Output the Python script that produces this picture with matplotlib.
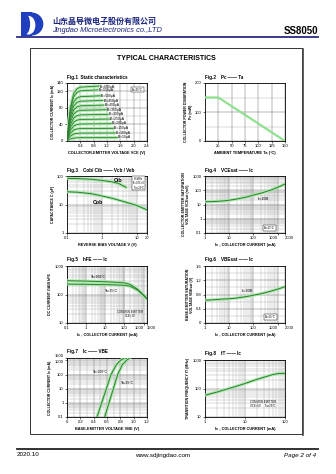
import matplotlib
matplotlib.use('Agg')
import matplotlib.pyplot as plt
from matplotlib.patches import Rectangle, Ellipse
from matplotlib.lines import Line2D
from matplotlib.ticker import FixedLocator, MultipleLocator, LogLocator, NullFormatter

plt.rcParams['font.family'] = ['Liberation Sans', 'DejaVu Sans']

W, H = 336, 474

# ---------------- data ----------------
# Fig.1 static characteristics (IC vs VCE for several IB)
fig1_ib_labels = ['IB=600μA', 'IB=550μA', 'IB=500μA', 'IB=450μA', 'IB=400μA', 'IB=350μA',
                  'IB=300μA', 'IB=250μA', 'IB=200μA', 'IB=150μA', 'IB=100μA', 'IB=50μA']
fig1_ic_levels = [130, 121, 107, 96, 85, 74, 63, 52, 41, 30, 19, 8]
fig1_vce_end = [0.95, 0.92, 1.0, 1.07, 1.1, 1.17, 1.23, 1.27, 1.33, 1.39, 1.44, 1.5]
fig1_knee_vce = [0.0, 0.05, 0.1, 0.2, 0.3, 0.4]
fig1_knee_frac = [0.0, 0.35, 0.62, 0.88, 0.97, 1.0]
fig1_xticks = [0.4, 0.8, 1.2, 1.6, 2.0, 2.4]
fig1_yticks = [0, 40, 80, 120, 140]

# Fig.2 power derating
fig2_ta = [0, 25, 150]
fig2_pc = [150, 150, 0]
fig2_xticks = [25, 50, 75, 100, 125, 150]
fig2_yticks = [0, 100, 200]

# Fig.3 capacitances
fig3_v_cib = [0.1, 0.2, 0.5, 1, 2, 3, 5]
fig3_cib = [83, 81, 77, 70, 62, 55, 40]
fig3_v_cob = [0.1, 0.2, 0.5, 1, 2, 5, 10, 20]
fig3_cob = [28, 27, 24, 20, 16.5, 12, 9.3, 6.5]

# Fig.4 VCE(sat) vs IC
fig4_ic = [1, 2, 5, 10, 20, 50, 100, 200, 500, 1000, 2000]
fig4_vce = [15.5, 16, 17.5, 20, 24, 33, 46, 62, 100, 160, 270]

# Fig.5 hFE vs IC
fig5_ic = [0.1, 0.3, 1, 3, 10, 30, 100, 200, 500, 1000, 1500]
fig5_hfe_100 = [305, 300, 295, 288, 280, 270, 255, 225, 150, 95, 72]
fig5_hfe_25 = [232, 230, 228, 225, 222, 218, 210, 195, 140, 92, 70]

# Fig.6 VBE(sat) vs IC
fig6_ic = [1, 2, 5, 10, 20, 50, 100, 200, 500, 1000, 2000]
fig6_vbe = [0.64, 0.65, 0.67, 0.68, 0.70, 0.74, 0.78, 0.82, 0.89, 0.95, 1.02]

# Fig.7 IC vs VBE
fig7_ic = [0.1, 1, 10, 100, 500, 1000, 1500]
fig7_vbe_100 = [0.45, 0.52, 0.59, 0.66, 0.74, 0.80, 0.86]
fig7_vbe_25 = [0.565, 0.63, 0.695, 0.76, 0.83, 0.89, 0.94]

# Fig.8 fT vs IC
fig8_ic = [1, 2, 5, 10, 20, 50, 70, 100]
fig8_ft = [58, 75, 110, 150, 210, 310, 335, 340]

# ---------------- helpers ----------------
fig = plt.figure(figsize=(W / 100, H / 100), dpi=100)


def px_axes(l, t, r, b, **kw):
    return fig.add_axes([l / W, 1 - b / H, (r - l) / W, (b - t) / H], **kw)


def px_text(x, y, s, **kw):
    return fig.text(x / W, 1 - y / H, s, **kw)


def px_line(x0, y0, x1, y1, **kw):
    fig.add_artist(Line2D([x0 / W, x1 / W], [1 - y0 / H, 1 - y1 / H],
                          transform=fig.transFigure, **kw))


def style(ax, xlabel, ylabel):
    for sp in ax.spines.values():
        sp.set_linewidth(0.6)
    ax.tick_params(which='major', labelsize=3, length=1.5, width=0.4, pad=1)
    ax.tick_params(which='minor', length=0)
    ax.grid(True, which='major', color='#6f6f6f', lw=0.35)
    ax.grid(True, which='minor', color='#9a9a9a', lw=0.25)
    ax.set_axisbelow(True)
    ax.set_xlabel(xlabel, fontsize=2.8, fontweight='bold', labelpad=1.5)
    ax.set_ylabel(ylabel, fontsize=2.6, fontweight='bold', labelpad=1.5,
                  linespacing=1.1)


def log_minor(axis):
    axis.set_minor_locator(LogLocator(base=10, subs=range(2, 10), numticks=20))
    axis.set_minor_formatter(NullFormatter())


def green(ax, x, y, lw=0.7):
    ax.plot(x, y, color='#a8e8a8', lw=2.2, solid_capstyle='round', zorder=3)
    ax.plot(x, y, color='#2e7d32', lw=lw, zorder=4)


def title(ax_box, s):
    l, t = ax_box
    px_text(l, t - 6, s, fontsize=3.3, fontweight='bold', va='center', ha='left')


def note(ax, x, y, s, box=False, fs=2.2, **kw):
    bb = dict(boxstyle='square,pad=0.3', fc='white', ec='black', lw=0.3) if box else None
    ax.text(x, y, s, fontsize=fs, ha='center', va='center', bbox=bb, zorder=6,
            linespacing=1.1, **kw)


# ---------------- header ----------------
logo = px_axes(19, 12, 44, 36)
logo.set_xlim(0, 1)
logo.set_ylim(0, 1)
logo.axis('off')
logo.add_patch(Rectangle((0.05, 0.02), 0.45, 0.96, fc='#1f3fbf', ec='none'))
logo.add_patch(Ellipse((0.5, 0.5), 0.95, 0.96, fc='#1f3fbf', ec='none'))
logo.add_patch(Ellipse((0.38, 0.45), 0.55, 0.78, fc='white', ec='none'))
logo.add_patch(Ellipse((0.22, 0.5), 0.45, 0.9, fc='#1f3fbf', ec='none'))
logo.add_patch(Rectangle((0.0, 0.0), 0.06, 1.0, fc='white', ec='none'))

px_text(52, 21, '山东晶导微电子股份有限公司', fontsize=5.8, color='#1a237e',
        family=['Noto Sans CJK SC', 'DejaVu Sans'], fontweight='bold', va='center')
px_text(52, 30.5, 'Jingdao Microelectronics co.,LTD', fontsize=5.4, color='#1a237e',
        style='italic', va='center')
px_text(318, 30.5, 'SS8050', fontsize=7, fontweight='bold', ha='right', va='center')
px_line(17, 36.5, 318, 36.5, color='#2b2b86', lw=1.3)

# framed area
fig.add_artist(Rectangle((30 / W, 1 - 434 / H), (302 - 30) / W, (434 - 48) / H,
                         transform=fig.transFigure, fill=False, ec='#333333', lw=0.7))
px_line(303, 49, 303, 435, color='#444444', lw=1.2)
px_text(166, 59, 'TYPICAL CHARACTERISTICS', fontsize=5, fontweight='bold',
        ha='center', va='center')

# footer
px_line(17, 449, 318, 449, color='#222222', lw=1.3)
px_text(17, 455, '2020.10', fontsize=4.5, va='center')
px_text(163, 455, 'www.sdjingdao.com', fontsize=4.5, ha='center', va='center')
px_text(316, 455, 'Page 2 of 4', fontsize=4.5, ha='right', va='center', style='italic')

# ---------------- Fig.1 ----------------
box1 = (67, 83, 147, 141)
ax1 = px_axes(*box1)
for lab, lev, xe in zip(fig1_ib_labels, fig1_ic_levels, fig1_vce_end):
    xs = fig1_knee_vce + [xe]
    ys = [lev * f for f in fig1_knee_frac] + [lev * 1.02]
    green(ax1, xs, ys, lw=0.6)
    ax1.text(xe + 0.02, lev + 1.5, lab, fontsize=2.4, ha='left', va='center', zorder=6)
ax1.set_xlim(0, 2.4)
ax1.set_ylim(0, 140)
ax1.xaxis.set_major_locator(FixedLocator(fig1_xticks))
ax1.yaxis.set_major_locator(FixedLocator(fig1_yticks))
ax1.xaxis.set_minor_locator(MultipleLocator(0.2))
ax1.yaxis.set_minor_locator(MultipleLocator(20))
style(ax1, 'COLLECTOR-EMITTER VOLTAGE VCE (V)', 'COLLECTOR CURRENT Ic (mA)')
note(ax1, 2.12, 124, 'Ta=25°C', box=True, fs=2)
title(box1[:2], 'Fig.1  Static characteristics')

# ---------------- Fig.2 ----------------
box2 = (205, 83, 285, 141)
ax2 = px_axes(*box2)
ax2.plot(fig2_ta, fig2_pc, color='#8fe08f', lw=1.6, zorder=3)
ax2.set_xlim(0, 150)
ax2.set_ylim(0, 200)
ax2.xaxis.set_major_locator(FixedLocator(fig2_xticks))
ax2.yaxis.set_major_locator(FixedLocator(fig2_yticks))
ax2.yaxis.set_minor_locator(MultipleLocator(50))
style(ax2, 'AMBIENT TEMPERATURE Ta (°C)', 'COLLECTOR POWER DISSIPATION\nPc (mW)')
title(box2[:2], 'Fig.2    Pc —— Ta')

# ---------------- Fig.3 ----------------
box3 = (67, 176, 147, 233)
ax3 = px_axes(*box3)
ax3.set_xscale('log')
ax3.set_yscale('log')
green(ax3, fig3_v_cib, fig3_cib)
green(ax3, fig3_v_cob, fig3_cob)
ax3.set_xlim(0.1, 20)
ax3.set_ylim(1, 100)
ax3.xaxis.set_major_locator(FixedLocator([0.1, 1, 10, 20]))
ax3.set_xticklabels(['0.1', '1', '10', '20'])
ax3.yaxis.set_major_locator(FixedLocator([1, 10, 100]))
ax3.set_yticklabels(['1', '10', '100'])
log_minor(ax3.xaxis)
log_minor(ax3.yaxis)
style(ax3, 'REVERSE BIAS VOLTAGE V (V)', 'CAPACITANCE C (pF)')
ax3.text(3.0, 72, 'Cib', fontsize=3.8, fontweight='bold', ha='center', va='center', zorder=6)
ax3.text(0.8, 11.5, 'Cob', fontsize=3.8, fontweight='bold', ha='center', va='center', zorder=6)
note(ax3, 11.5, 55, 'f=1MHz\nIE=0/IC=0\nTa=25°C', box=True, fs=1.9)
title(box3[:2], 'Fig.3    Cob/ Cib —— Vcb / Veb')

# ---------------- Fig.4 ----------------
box4 = (205, 176, 285, 233)
ax4 = px_axes(*box4)
ax4.set_xscale('log')
ax4.set_yscale('log')
green(ax4, fig4_ic, fig4_vce)
ax4.set_xlim(1, 2000)
ax4.set_ylim(0.1, 1000)
ax4.xaxis.set_major_locator(FixedLocator([1, 10, 100, 1000, 2000]))
ax4.set_xticklabels(['1', '10', '100', '1000', '2000'])
ax4.yaxis.set_major_locator(FixedLocator([0.1, 1, 10, 100, 1000]))
ax4.set_yticklabels(['0.1', '1', '10', '100', '1000'])
log_minor(ax4.xaxis)
log_minor(ax4.yaxis)
style(ax4, 'Ic , COLLECTOR CURRENT (mA)',
      'COLLECTOR-EMITTER SATURATION\nVOLTAGE VCEsat (mV)')
xl = ax4.get_xticklabels()
xl[3].set_ha('right')
xl[4].set_ha('left')
note(ax4, 260, 24, 'Ic=10IB', fs=2.4)
note(ax4, 450, 0.22, 'Ta=25°C', box=True, fs=2)
title(box4[:2], 'Fig.4    VCEsat —— Ic')

# ---------------- Fig.5 ----------------
box5 = (67, 266, 147, 323)
ax5 = px_axes(*box5)
ax5.set_xscale('log')
ax5.set_yscale('log')
green(ax5, fig5_ic, fig5_hfe_100)
green(ax5, fig5_ic, fig5_hfe_25)
ax5.set_xlim(0.1, 1500)
ax5.set_ylim(10, 1000)
ax5.xaxis.set_major_locator(FixedLocator([0.1, 1, 10, 100, 1000, 1500]))
ax5.set_xticklabels(['0.1', '1', '10', '100', '1000', '1500'])
ax5.yaxis.set_major_locator(FixedLocator([10, 100, 1000]))
ax5.set_yticklabels(['10', '100', '1000'])
log_minor(ax5.xaxis)
log_minor(ax5.yaxis)
style(ax5, 'Ic , COLLECTOR CURRENT (mA)', 'DC CURRENT GAIN hFE')
xl = ax5.get_xticklabels()
xl[4].set_ha('right')
xl[5].set_ha('left')
note(ax5, 4.4, 420, 'Ta=100°C', fs=2.4)
note(ax5, 22, 136, 'Ta=25°C', fs=2.4)
note(ax5, 200, 21, 'COMMON EMITTER\nVCE=1V', fs=2)
title(box5[:2], 'Fig.5    hFE —— Ic')

# ---------------- Fig.6 ----------------
box6 = (205, 266, 285, 323)
ax6 = px_axes(*box6)
ax6.set_xscale('log')
green(ax6, fig6_ic, fig6_vbe)
ax6.set_xlim(1, 2000)
ax6.set_ylim(0, 1.6)
ax6.xaxis.set_major_locator(FixedLocator([1, 10, 100, 1000, 2000]))
ax6.set_xticklabels(['1', '10', '100', '1000', '2000'])
ax6.yaxis.set_major_locator(FixedLocator([0, 0.4, 0.8, 1.2, 1.6]))
ax6.set_yticklabels(['0', '0.4', '0.8', '1.2', '1.6'])
ax6.yaxis.set_minor_locator(MultipleLocator(0.2))
log_minor(ax6.xaxis)
style(ax6, 'Ic , COLLECTOR CURRENT (mA)',
      'BASE-EMITTER SATURATION\nVOLTAGE VBEsat (V)')
xl = ax6.get_xticklabels()
xl[3].set_ha('right')
xl[4].set_ha('left')
note(ax6, 55, 0.9, 'Ic=10IB', fs=2.4)
note(ax6, 500, 0.17, 'Ta=25°C', box=True, fs=2)
title(box6[:2], 'Fig.6    VBEsat —— Ic')

# ---------------- Fig.7 ----------------
box7 = (67, 358, 147, 417)
ax7 = px_axes(*box7)
ax7.set_yscale('log')
green(ax7, fig7_vbe_100, fig7_ic)
green(ax7, fig7_vbe_25, fig7_ic)
ax7.set_xlim(0, 1.2)
ax7.set_ylim(0.1, 1500)
ax7.xaxis.set_major_locator(FixedLocator([0, 0.2, 0.4, 0.6, 0.8, 1.0, 1.2]))
ax7.set_xticklabels(['0', '0.2', '0.4', '0.6', '0.8', '1.0', '1.2'])
ax7.xaxis.set_minor_locator(MultipleLocator(0.1))
ax7.yaxis.set_major_locator(FixedLocator([0.1, 1, 10, 100, 1000, 1500]))
ax7.set_yticklabels(['0.1', '1', '10', '100', '1000', '1500'])
log_minor(ax7.yaxis)
style(ax7, 'BASE-EMITTER VOLTAGE VBE (V)', 'COLLECTOR CURRENT Ic (mA)')
yl = ax7.get_yticklabels()
yl[4].set_va('top')
yl[5].set_va('bottom')
note(ax7, 0.5, 160, 'Ta=100°C', fs=2.4)
note(ax7, 0.9, 27, 'Ta=25°C', fs=2.4)
title(box7[:2], 'Fig.7    Ic —— VBE')

# ---------------- Fig.8 ----------------
box8 = (205, 360, 285, 417)
ax8 = px_axes(*box8)
ax8.set_xscale('log')
ax8.set_yscale('log')
green(ax8, fig8_ic, fig8_ft)
ax8.set_xlim(1, 100)
ax8.set_ylim(10, 1000)
ax8.xaxis.set_major_locator(FixedLocator([1, 10, 100]))
ax8.set_xticklabels(['1', '10', '100'])
ax8.yaxis.set_major_locator(FixedLocator([10, 100, 1000]))
ax8.set_yticklabels(['10', '100', '1000'])
log_minor(ax8.xaxis)
log_minor(ax8.yaxis)
style(ax8, 'Ic , COLLECTOR CURRENT (mA)', 'TRANSITION FREQUENCY fT (MHz)')
note(ax8, 28, 28, 'COMMON EMITTER\nVCE=5V     Ta=25°C', fs=2)
title(box8[:2], 'Fig.8    fT —— Ic')

fig.savefig('out.png', dpi=100, facecolor='white')
